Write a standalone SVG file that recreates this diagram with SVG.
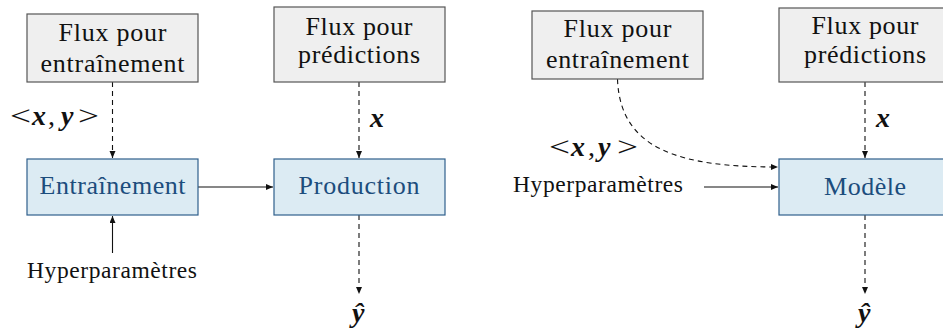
<svg xmlns="http://www.w3.org/2000/svg" width="943" height="331" viewBox="0 0 943 331">
<style>
.src{fill:#efefef;stroke:#555;stroke-width:1.2}
.mdl{fill:#dcebf3;stroke:#2f5f8c;stroke-width:1.2}
.t{font-family:"Liberation Serif",serif;font-size:26px;fill:#111;text-anchor:middle}
.tb{font-family:"Liberation Serif",serif;font-size:26px;fill:#1c4d7d;text-anchor:middle}
.h{font-family:"Liberation Serif",serif;font-size:23.5px;fill:#111}
.m{font-family:"Liberation Serif",serif;font-size:28px;fill:#111}
.bi{font-weight:bold;font-style:italic}
.c{fill:none;stroke:#111;stroke-width:1.1}
.d{stroke-dasharray:5,4}
</style>
<defs>
<marker id="ah" markerUnits="userSpaceOnUse" markerWidth="8" markerHeight="7" refX="7" refY="3" orient="auto">
<path d="M0,0 L7,3 L0,6 z" fill="#111"/>
</marker>
</defs>
<g id="connectors">
<path class="c d" d="M112.5,82 L112.5,158" marker-end="url(#ah)"/>
<path class="c" d="M198,187 L273,187" marker-end="url(#ah)"/>
<path class="c" d="M112.5,253 L112.5,216" marker-end="url(#ah)"/>
<path class="c d" d="M359,82 L359,158" marker-end="url(#ah)"/>
<path class="c d" d="M359,215 L359,294" marker-end="url(#ah)"/>
<path class="c d" d="M617.5,79 C620,150 680,167 778,167" marker-end="url(#ah)"/>
<path class="c" d="M704,187 L778,187" marker-end="url(#ah)"/>
<path class="c d" d="M865,82 L865,158" marker-end="url(#ah)"/>
<path class="c d" d="M865,215 L865,294" marker-end="url(#ah)"/>
</g>
<g id="fluxEntrainement1">
<rect class="src" x="27" y="14" width="171" height="68"/>
<text class="t" x="112.5" y="41" textLength="108">Flux pour</text>
<text class="t" x="112.5" y="72" textLength="144">entraînement</text>
</g>
<g id="fluxPredictions1">
<rect class="src" x="274" y="7" width="171" height="75"/>
<text class="t" x="359" y="35" textLength="107">Flux pour</text>
<text class="t" x="359" y="63" textLength="122">prédictions</text>
</g>
<g id="entrainement">
<rect class="mdl" x="27" y="159" width="171" height="56"/>
<text class="tb" x="112.5" y="194" textLength="146">Entraînement</text>
</g>
<g id="production">
<rect class="mdl" x="274" y="159" width="171" height="56"/>
<text class="tb" x="359" y="194" textLength="121">Production</text>
</g>
<g id="hyper1">
<text class="h" x="27" y="278" textLength="170">Hyperparamètres</text>
</g>
<g id="labels1">
<text class="m" y="125"><tspan x="10" textLength="21" lengthAdjust="spacingAndGlyphs">&lt;</tspan><tspan x="32" class="bi">x</tspan><tspan x="48">,</tspan><tspan x="61" class="bi">y</tspan><tspan x="78" textLength="21" lengthAdjust="spacingAndGlyphs">&gt;</tspan></text>
<text class="m bi" x="370" y="127">x</text>
<text class="m bi" x="352" y="322">ŷ</text>
</g>
<g id="fluxEntrainement2">
<rect class="src" x="532" y="11" width="171" height="68"/>
<text class="t" x="617.5" y="37" textLength="108">Flux pour</text>
<text class="t" x="617.5" y="68" textLength="143">entraînement</text>
</g>
<g id="fluxPredictions2">
<rect class="src" x="779" y="8" width="172" height="74"/>
<text class="t" x="865" y="34" textLength="107">Flux pour</text>
<text class="t" x="865" y="63" textLength="122">prédictions</text>
</g>
<g id="modele">
<rect class="mdl" x="779" y="159" width="172" height="56"/>
<text class="tb" x="865" y="195" textLength="82">Modèle</text>
</g>
<g id="hyper2">
<text class="h" x="513" y="192" textLength="170">Hyperparamètres</text>
</g>
<g id="labels2">
<text class="m" y="156"><tspan x="549" textLength="21" lengthAdjust="spacingAndGlyphs">&lt;</tspan><tspan x="571" class="bi">x</tspan><tspan x="588">,</tspan><tspan x="598" class="bi">y</tspan><tspan x="617" textLength="21" lengthAdjust="spacingAndGlyphs">&gt;</tspan></text>
<text class="m bi" x="876" y="127">x</text>
<text class="m bi" x="858" y="322">ŷ</text>
</g>
</svg>
